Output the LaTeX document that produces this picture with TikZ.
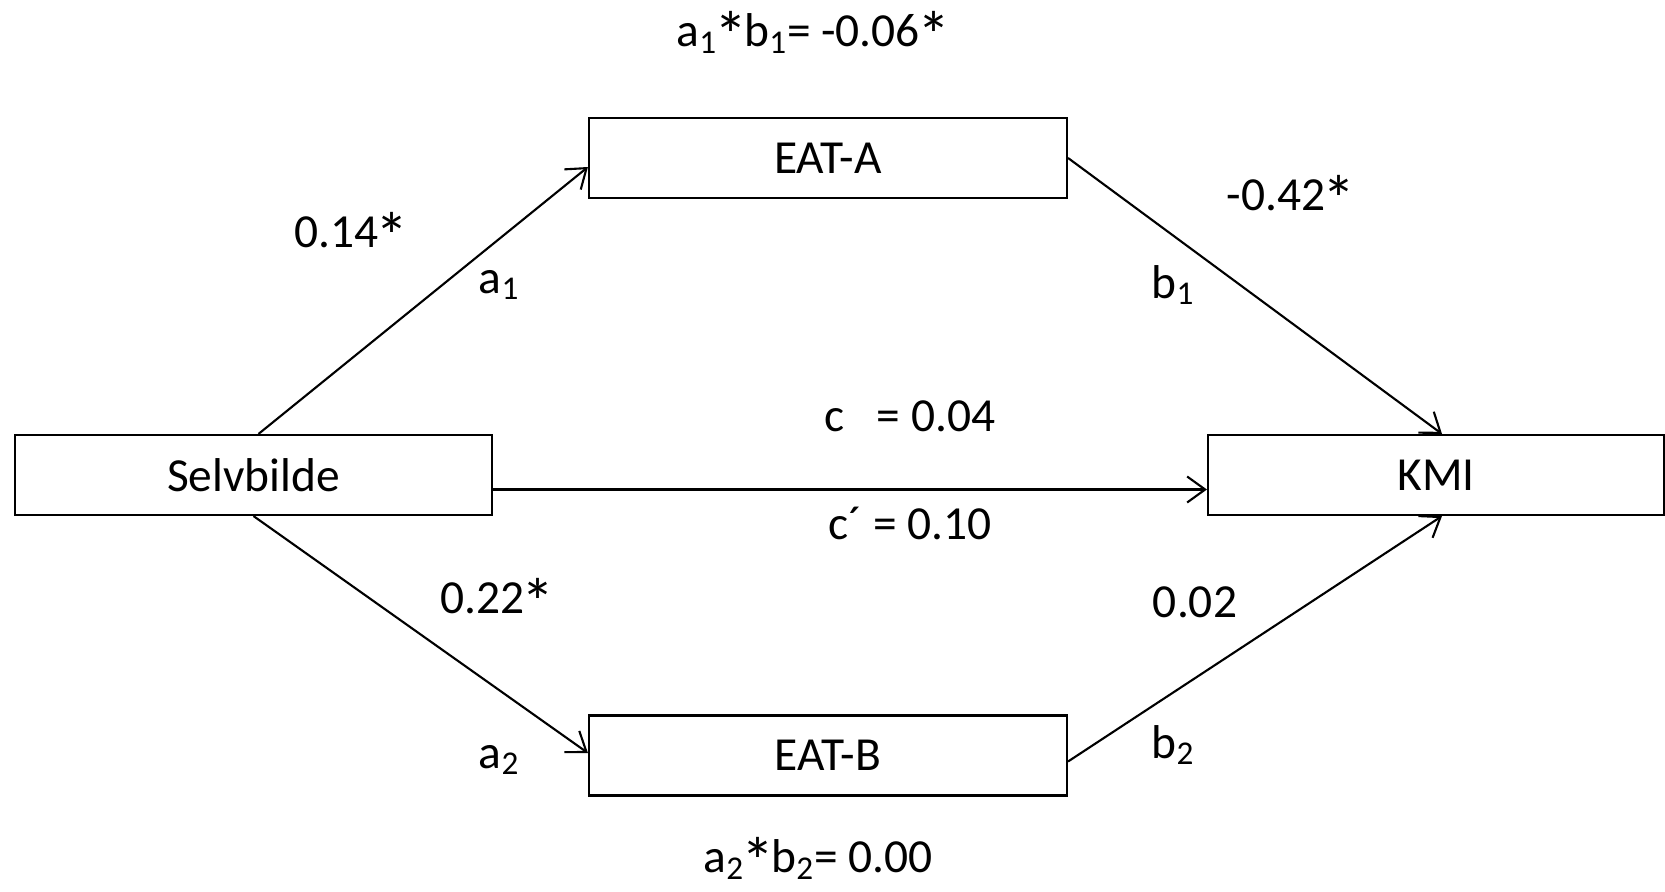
\documentclass[tikz,border=0pt]{standalone}
\usepackage{fontspec}
\setmainfont{Carlito}
\usetikzlibrary{arrows.meta}

\newcommand{\sig}{\kern-0.06em\raisebox{-0.25em}{\scalebox{1.4}{*}}\kern-0.06em}

\tikzset{
    varbox/.style={draw, line width=1.2pt, minimum height=1.6cm, inner sep=0pt,
        font=\fontsize{27}{32}\selectfont},
    path/.style={draw, line width=1.2pt, -{Straight Barb[length=0.36cm,width=0.52cm,line width=1.2pt]}},
    coef/.style={font=\fontsize{27}{32}\selectfont, inner sep=0pt}
}

\begin{document}
\begin{tikzpicture}
    \useasboundingbox (0,0) rectangle (33.3,-17.84);

    % variables
    \node[varbox, minimum width=9.54cm] (selv) at (5.07,-9.5) {Selvbilde};
    \node[varbox, minimum width=9.56cm] (eata) at (16.56,-3.16) {EAT-A};
    \node[varbox, minimum width=9.56cm] (eatb) at (16.56,-15.11) {EAT-B};
    \node[varbox, minimum width=9.12cm] (kmi) at (28.72,-9.5) {KMI};

    % paths
    \draw[path] ([xshift=0.1cm]selv.north) -- ([yshift=-0.18cm]eata.west);
    \draw[path] (eata.east) -- ([xshift=0.12cm]kmi.north);
    \draw[path] ([yshift=-0.29cm]selv.east) -- ([yshift=-0.29cm]kmi.west);
    \draw[path] (selv.south) -- ([yshift=0.05cm]eatb.west);
    \draw[path] ([yshift=-0.12cm]eatb.east) -- ([xshift=0.12cm]kmi.south);

    % coefficients
    \node[coef] (ind1) at (16.24,-0.7) {a\textsubscript{1}\sig b\textsubscript{1}= -0.06\sig};
    \node[coef] (a1val) at (7.0,-4.72) {0.14\sig};
    \node[coef] (a1) at (9.98,-5.7) {a\textsubscript{1}};
    \node[coef] (b1val) at (25.8,-3.98) {-0.42\sig};
    \node[coef] (b1) at (23.46,-5.7) {b\textsubscript{1}};
    \node[coef] (ctot) at (18.2,-8.32) {c\hspace{0.45em} = 0.04};
    \node[coef] (cdir) at (18.2,-10.46) {c´ = 0.10};
    \node[coef] (a2val) at (9.92,-12.04) {0.22\sig};
    \node[coef] (b2val) at (23.9,-12.04) {0.02};
    \node[coef] (a2) at (9.98,-15.2) {a\textsubscript{2}};
    \node[coef] (b2) at (23.46,-14.9) {b\textsubscript{2}};
    \node[coef] (ind2) at (16.36,-17.22) {a\textsubscript{2}\sig b\textsubscript{2}= 0.00};
\end{tikzpicture}
\end{document}
